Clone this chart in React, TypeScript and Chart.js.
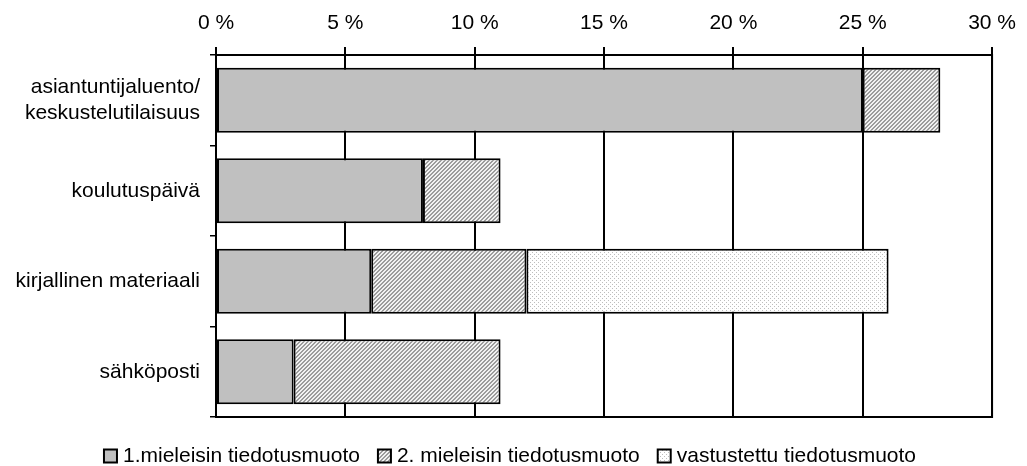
import React, { useEffect, useRef } from "react";
import { Chart, registerables } from "chart.js";

Chart.register(...registerables);

const categories: (string | string[])[] = [
  ["asiantuntijaluento/", "keskustelutilaisuus"],
  "koulutuspäivä",
  "kirjallinen materiaali",
  "sähköposti",
];
const seriesNames = [
  "1.mieleisin tiedotusmuoto",
  "2. mieleisin tiedotusmuoto",
  "vastustettu tiedotusmuoto",
];
const firstChoice = [25, 8, 6, 3];
const secondChoice = [3, 3, 6, 8];
const opposed = [0, 0, 14, 0];
const xTicks = [0, 5, 10, 15, 20, 25, 30];

const FONT = "'Liberation Sans', Arial, sans-serif";

function makePattern(kind: "hatch" | "dots"): CanvasPattern | string {
  const c = document.createElement("canvas");
  c.width = 4;
  c.height = 4;
  const g = c.getContext("2d");
  if (!g) return "#cccccc";
  if (kind === "hatch") {
    g.fillStyle = "#f2f2f2";
    g.fillRect(0, 0, 4, 4);
    g.fillStyle = "#9c9c9c";
    for (let x = 0; x < 4; x++) {
      for (let y = 0; y < 4; y++) {
        if ((x + y) % 4 < 2) g.fillRect(x, y, 1, 1);
      }
    }
  } else {
    g.fillStyle = "#ffffff";
    g.fillRect(0, 0, 4, 4);
    g.fillStyle = "#bdbdbd";
    g.fillRect(0, 0, 1, 1);
    g.fillRect(2, 2, 1, 1);
  }
  const p = g.createPattern(c, "repeat");
  return p || "#cccccc";
}

const frameAndLegend = {
  id: "frameAndLegend",
  afterDatasetsDraw(chart: any) {
    const { ctx, chartArea } = chart;
    ctx.save();
    ctx.strokeStyle = "#000";
    ctx.lineWidth = 2;
    ctx.strokeRect(chartArea.left, chartArea.top, chartArea.right - chartArea.left, chartArea.bottom - chartArea.top);
    ctx.restore();
  },
  afterDraw(chart: any) {
    const { ctx } = chart;
    const ds = chart.data.datasets;
    ctx.save();
    ctx.font = `21px ${FONT}`;
    ctx.textBaseline = "middle";
    ctx.fillStyle = "#000";
    const box = 13;
    const gapBox = 6;
    const gapItem = 18;
    const widths = ds.map((d: any) => ctx.measureText(d.label).width);
    const total = widths.reduce((a: number, b: number) => a + b, 0) + ds.length * (box + gapBox) + (ds.length - 1) * gapItem;
    let x = 510 - total / 2;
    const cy = 456;
    ds.forEach((d: any, i: number) => {
      ctx.fillStyle = d.backgroundColor;
      ctx.fillRect(x, cy - box / 2, box, box);
      ctx.strokeStyle = "#000";
      ctx.lineWidth = 2;
      ctx.strokeRect(x, cy - box / 2, box, box);
      x += box + gapBox;
      ctx.fillStyle = "#000";
      ctx.fillText(d.label, x, cy);
      x += widths[i] + gapItem;
    });
    ctx.restore();
  },
};

export default function App() {
  const ref = useRef<HTMLCanvasElement | null>(null);
  useEffect(() => {
    if (!ref.current) return;
    const hatch = makePattern("hatch");
    const dots = makePattern("dots");
    const common = {
      borderColor: "#000",
      borderWidth: 2,
      borderSkipped: false,
      categoryPercentage: 1,
      barPercentage: 0.72,
    };
    const chart = new Chart(ref.current, {
      type: "bar",
      data: {
        labels: categories,
        datasets: [
          { label: seriesNames[0], data: firstChoice, backgroundColor: "#c0c0c0", ...common },
          { label: seriesNames[1], data: secondChoice, backgroundColor: hatch, ...common },
          { label: seriesNames[2], data: opposed, backgroundColor: dots, ...common },
        ],
      } as any,
      options: {
        indexAxis: "y",
        animation: false,
        responsive: true,
        maintainAspectRatio: false,
        layout: { padding: { top: 0, right: 31, bottom: 49, left: 0 } },
        plugins: { legend: { display: false }, tooltip: { enabled: false } },
        scales: {
          x: {
            position: "top",
            stacked: true,
            min: 0,
            max: 30,
            afterBuildTicks: (scale: any) => {
              scale.ticks = xTicks.map((v) => ({ value: v }));
            },
            afterFit: (scale: any) => {
              scale.height = 55;
            },
            ticks: {
              color: "#000",
              font: { family: FONT, size: 21 },
              padding: 11,
              callback: (v: any) => `${v} %`,
            },
            grid: { color: "#000", lineWidth: 2, tickLength: 8 },
            border: { display: true, color: "#000", width: 2 },
          },
          y: {
            stacked: true,
            afterFit: (scale: any) => {
              scale.width = 216;
            },
            ticks: {
              color: "#000",
              font: { family: FONT, size: 21, lineHeight: 1.2 },
              padding: 10,
            },
            grid: { color: "#000", lineWidth: 1.5, drawOnChartArea: false, tickLength: 6, offset: true },
            border: { display: true, color: "#000", width: 2 },
          },
        },
      } as any,
      plugins: [frameAndLegend],
    });
    return () => chart.destroy();
  }, []);
  return (
    <div style={{ position: "absolute", left: 0, top: 0, width: 1027, height: 466, background: "#fff" }}>
      <canvas ref={ref} />
    </div>
  );
}
